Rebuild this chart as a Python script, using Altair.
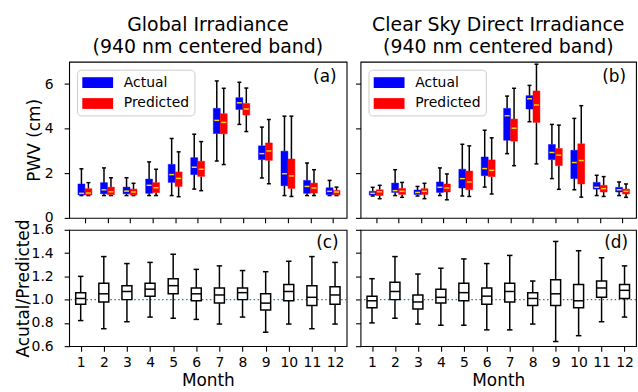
import altair as alt
import pandas as pd

months = list(range(1, 13))
series_names = ["Actual", "Predicted"]
series_colors = ["#0000ff", "#ff0000"]

# per month: (lower whisker, q1, median, q3, upper whisker)
gi_actual = [
    (1.00, 1.03, 1.10, 1.52, 2.20), (1.00, 1.08, 1.26, 1.58, 2.24),
    (1.00, 1.08, 1.20, 1.38, 1.80), (1.00, 1.10, 1.46, 1.74, 2.51),
    (1.00, 1.59, 1.94, 2.40, 3.56), (1.29, 1.94, 2.27, 2.70, 3.75),
    (2.55, 3.78, 4.37, 4.91, 6.14), (4.19, 4.86, 5.16, 5.39, 6.08),
    (1.79, 2.61, 2.88, 3.23, 4.07), (1.00, 1.44, 1.98, 2.99, 4.56),
    (1.00, 1.10, 1.41, 1.68, 2.46), (1.00, 1.04, 1.19, 1.35, 1.68),
]
gi_predicted = [
    (1.00, 1.03, 1.11, 1.31, 1.58), (1.00, 1.04, 1.17, 1.38, 1.80),
    (1.00, 1.03, 1.16, 1.29, 1.55), (1.00, 1.13, 1.35, 1.58, 2.18),
    (0.95, 1.41, 1.77, 2.06, 2.96), (1.22, 1.86, 2.18, 2.54, 3.42),
    (2.39, 3.77, 4.28, 4.67, 5.81), (3.87, 4.61, 4.88, 5.13, 5.82),
    (1.53, 2.58, 3.00, 3.36, 4.41), (0.96, 1.32, 1.88, 2.64, 4.56),
    (1.00, 1.11, 1.34, 1.56, 2.16), (1.00, 1.03, 1.16, 1.23, 1.38),
]
csd_actual = [
    (0.98, 1.02, 1.10, 1.19, 1.37), (1.00, 1.14, 1.22, 1.56, 2.16),
    (0.98, 1.05, 1.14, 1.25, 1.41), (1.00, 1.14, 1.37, 1.61, 2.24),
    (0.98, 1.34, 1.76, 2.18, 3.30), (1.38, 1.89, 2.21, 2.73, 3.93),
    (2.88, 3.48, 4.58, 4.91, 5.46), (4.31, 4.88, 5.34, 5.48, 5.94),
    (1.76, 2.61, 2.93, 3.29, 4.19), (1.26, 1.76, 2.48, 3.03, 4.46),
    (1.00, 1.29, 1.37, 1.59, 1.91), (1.00, 1.16, 1.26, 1.37, 1.61),
]
csd_predicted = [
    (0.86, 1.00, 1.17, 1.26, 1.46), (0.92, 1.05, 1.19, 1.32, 1.59),
    (0.86, 1.05, 1.19, 1.31, 1.55), (0.81, 1.16, 1.34, 1.52, 1.97),
    (0.96, 1.26, 1.61, 2.10, 3.23), (1.07, 1.85, 2.13, 2.60, 3.59),
    (2.34, 3.44, 4.02, 4.43, 5.81), (2.42, 4.28, 5.06, 5.69, 6.89),
    (1.28, 2.34, 2.81, 3.11, 4.16), (0.93, 1.52, 2.57, 3.32, 5.03),
    (0.96, 1.16, 1.31, 1.46, 1.85), (0.92, 1.07, 1.19, 1.29, 1.52),
]
gi_ratio = [
    (0.82, 0.96, 1.01, 1.06, 1.20), (0.75, 0.98, 1.05, 1.14, 1.37),
    (0.81, 1.00, 1.07, 1.12, 1.31), (0.85, 1.03, 1.09, 1.14, 1.32),
    (0.84, 1.05, 1.12, 1.18, 1.39), (0.83, 0.99, 1.05, 1.10, 1.26),
    (0.79, 0.97, 1.04, 1.10, 1.29), (0.85, 1.00, 1.06, 1.10, 1.25),
    (0.72, 0.91, 0.97, 1.05, 1.24), (0.79, 0.99, 1.07, 1.13, 1.33),
    (0.75, 0.95, 1.02, 1.12, 1.37), (0.79, 0.96, 1.04, 1.11, 1.32),
]
csd_ratio = [
    (0.80, 0.93, 0.99, 1.03, 1.18), (0.84, 1.00, 1.07, 1.15, 1.37),
    (0.79, 0.92, 0.98, 1.04, 1.22), (0.78, 0.97, 1.02, 1.09, 1.27),
    (0.78, 0.99, 1.06, 1.14, 1.35), (0.74, 0.96, 1.03, 1.10, 1.31),
    (0.74, 0.98, 1.07, 1.14, 1.38), (0.79, 0.95, 1.01, 1.06, 1.16),
    (0.64, 0.95, 1.05, 1.17, 1.50), (0.69, 0.93, 0.99, 1.13, 1.42),
    (0.81, 1.02, 1.10, 1.16, 1.36), (0.85, 1.01, 1.08, 1.13, 1.29),
]

pwv_ticks = [0, 2, 4, 6]
ratio_ticks = [0.6, 0.8, 1.0, 1.2, 1.4, 1.6]
titles = {
    "gi": ["Global Irradiance", "(940 nm centered band)"],
    "csd": ["Clear Sky Direct Irradiance", "(940 nm centered band)"],
}

STATS = ["lo", "q1", "med", "q3", "hi"]
FONT = "DejaVu Sans"
MEDIAN_COLOR = "#f2d600"
TOP_H, BOT_H = 157, 117


def frame(rows, series):
    return pd.DataFrame(
        [dict(month=m, series=series, **dict(zip(STATS, r))) for m, r in zip(months, rows)]
    )


def y_axis(ticks, show_labels, title, title_x, height, fmt):
    kw = dict(values=ticks, tickCount=len(ticks), labels=show_labels, labelOverlap=False,
              format=fmt)
    if show_labels:
        kw.update(title=title, titleX=title_x, titleY=height / 2, titleAngle=270,
                  titleBaseline="alphabetic", titleAlign="center")
    else:
        kw.update(title=None)
    return alt.Axis(**kw)


def pwv_panel(act, pred, title, label, show_labels, width):
    x = alt.X("month:Q", scale=alt.Scale(domain=[0.3, 12.6], nice=False, zero=False),
              axis=alt.Axis(values=months, tickCount=12, labels=False, title=None))
    yax = y_axis(pwv_ticks, show_labels, "PWV (cm)", -30, TOP_H, "d")
    yscale = alt.Scale(domain=[0, 7], nice=False)
    layers = []
    for rows, name, sign in [(act, "Actual", -1), (pred, "Predicted", 1)]:
        base = alt.Chart(frame(rows, name))
        box_off = (-7, 0) if sign < 0 else (0, 7)
        layers.append(base.mark_rule(color="black", strokeWidth=1.5, xOffset=3.5 * sign).encode(
            x=x, y=alt.Y("hi:Q", scale=yscale, axis=yax), y2="q3:Q"))
        layers.append(base.mark_rule(color="black", strokeWidth=1.5, xOffset=3.5 * sign).encode(
            x=x, y="lo:Q", y2="q1:Q"))
        for stat in ["lo", "hi"]:
            layers.append(base.mark_rule(color="black", strokeWidth=1.5,
                                         xOffset=3.5 * sign - 2, x2Offset=3.5 * sign + 2).encode(
                x=x, x2="month:Q", y=f"{stat}:Q"))
        layers.append(base.mark_rect(xOffset=box_off[0], x2Offset=box_off[1],
                                     strokeWidth=1, strokeOpacity=0.45).encode(
            x=x, x2="month:Q", y="q1:Q", y2="q3:Q",
            color=alt.Color("series:N",
                            scale=alt.Scale(domain=series_names, range=series_colors),
                            legend=alt.Legend(
                                title=None, orient="none", legendX=8, legendY=8,
                                symbolType="M-1,-0.7H3V0.7H-1Z", symbolSize=240,
                                symbolStrokeWidth=0, symbolOpacity=1,
                                labelFontSize=14, labelFont=FONT, labelColor="black",
                                labelOffset=26, rowPadding=6, padding=5,
                                fillColor="white", strokeColor="#cccccc", cornerRadius=4)),
            stroke=alt.Stroke("series:N", scale=alt.Scale(domain=series_names, range=series_colors),
                              legend=None)))
        layers.append(base.mark_rule(color=MEDIAN_COLOR, strokeWidth=1.5,
                                     xOffset=box_off[0] + 1, x2Offset=box_off[1] - 1).encode(
            x=x, x2="month:Q", y="med:Q"))
    layers.append(alt.Chart(pd.DataFrame({"t": [label]})).mark_text(
        align="right", baseline="middle", fontSize=17, font=FONT, color="black").encode(
        text="t:N", x=alt.value(width - 10), y=alt.value(15)))
    return alt.layer(*layers).properties(
        width=width, height=TOP_H,
        title=alt.Title(title, fontSize=19, font=FONT, fontWeight="normal", color="black",
                        lineHeight=22, offset=5, anchor="middle"))


def ratio_panel(rows, label, show_labels, width):
    base = alt.Chart(frame(rows, "ratio"))
    x = alt.X("month:Q", scale=alt.Scale(domain=[0.5, 12.5], nice=False, zero=False),
              axis=alt.Axis(values=months, tickCount=12, title="Month", format="d",
                            labelOverlap=False))
    yscale = alt.Scale(domain=[0.6, 1.6], nice=False, zero=False)
    yax = y_axis(ratio_ticks, show_labels, "Acutal/Predicted", -41, BOT_H, ".1f")
    upper = base.mark_rule(color="black", strokeWidth=1.5).encode(
        x=x, y=alt.Y("hi:Q", scale=yscale, axis=yax), y2="q3:Q")
    ref = alt.Chart(pd.DataFrame({"v": [1.0]})).mark_rule(
        color="#1f77b4", strokeWidth=1.5, strokeDash=[1.5, 2.5]).encode(
        y=alt.Y("v:Q", scale=yscale, axis=yax))
    lower = base.mark_rule(color="black", strokeWidth=1.5).encode(x=x, y="lo:Q", y2="q1:Q")
    caps = [base.mark_rule(color="black", strokeWidth=1.5, xOffset=-2.75, x2Offset=2.75).encode(
        x=x, x2="month:Q", y=f"{s}:Q") for s in ["lo", "hi"]]
    box = base.mark_rect(fill="white", stroke="black", strokeWidth=1.5,
                         xOffset=-5, x2Offset=5).encode(x=x, x2="month:Q", y="q1:Q", y2="q3:Q")
    med = base.mark_rule(color="black", strokeWidth=1.5, xOffset=-5, x2Offset=5).encode(
        x=x, x2="month:Q", y="med:Q")
    lab = alt.Chart(pd.DataFrame({"t": [label]})).mark_text(
        align="right", baseline="middle", fontSize=17, font=FONT, color="black").encode(
        text="t:N", x=alt.value(width - 8), y=alt.value(13))
    return alt.layer(upper, ref, lower, *caps, box, med, lab).properties(width=width, height=BOT_H)


a = pwv_panel(gi_actual, gi_predicted, titles["gi"], "(a)", True, 279)
b = pwv_panel(csd_actual, csd_predicted, titles["csd"], "(b)", False, 277)
c = ratio_panel(gi_ratio, "(c)", True, 279)
d = ratio_panel(csd_ratio, "(d)", False, 277)

chart = alt.concat(a, b, c, d, columns=2, bounds="flush",
                   spacing={"row": 12, "column": 14}).resolve_scale(
    color="independent", stroke="independent"
).resolve_legend(color="independent", stroke="independent").properties(
    padding={"left": 13.5, "top": 14, "right": 0, "bottom": 0}, background="white"
).configure_view(stroke="black", strokeWidth=1.1).configure_axis(
    domain=False, grid=False, ticks=True, tickColor="black", tickWidth=1.1, tickSize=5,
    labelFont=FONT, labelFontSize=14, labelColor="black", labelPadding=11,
    labelOverlap=False, labelSeparation=0,
    titleFont=FONT, titleFontSize=17, titleFontWeight="normal", titleColor="black",
    titlePadding=2
).configure_axisX(labelPadding=4, titlePadding=4)

chart.save("out.html", embed_options={"renderer": "svg", "actions": False})
